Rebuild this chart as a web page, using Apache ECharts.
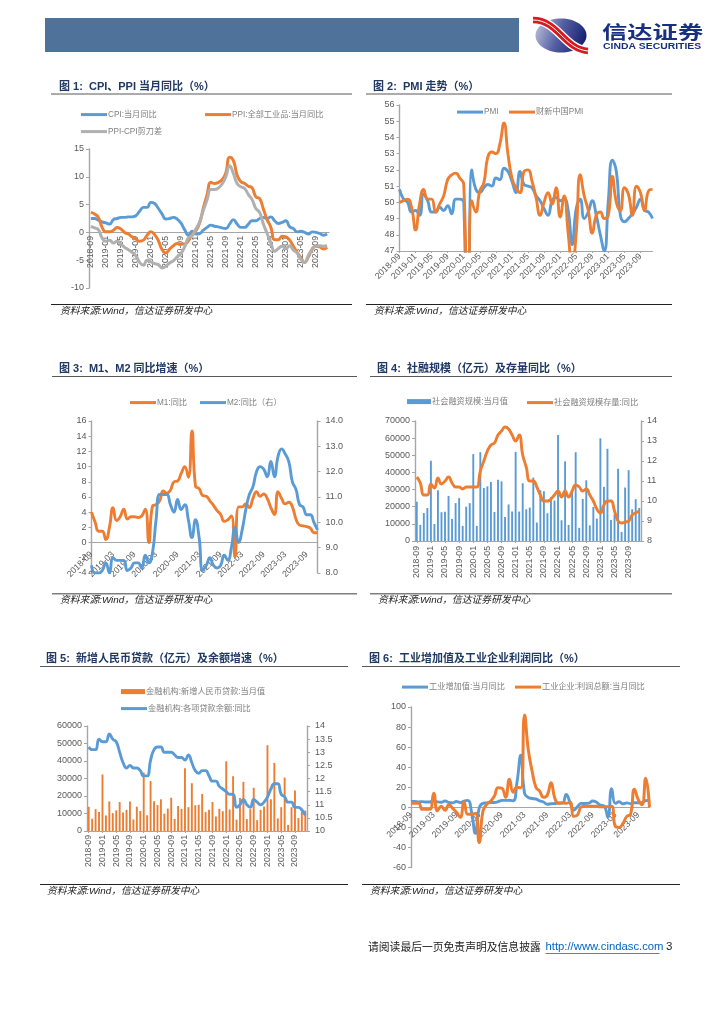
<!DOCTYPE html>
<html><head><meta charset="utf-8">
<style>html,body{margin:0;padding:0;background:#fff}#c{width:724px;height:1024px}</style>
<script src="https://cdn.jsdelivr.net/npm/echarts@6/dist/echarts.min.js"></script></head>
<body><div id="c"></div>
<script>
const months = [
 '2018-09','2018-10','2018-11','2018-12',
 '2019-01','2019-02','2019-03','2019-04','2019-05','2019-06','2019-07','2019-08','2019-09','2019-10','2019-11','2019-12',
 '2020-01','2020-02','2020-03','2020-04','2020-05','2020-06','2020-07','2020-08','2020-09','2020-10','2020-11','2020-12',
 '2021-01','2021-02','2021-03','2021-04','2021-05','2021-06','2021-07','2021-08','2021-09','2021-10','2021-11','2021-12',
 '2022-01','2022-02','2022-03','2022-04','2022-05','2022-06','2022-07','2022-08','2022-09','2022-10','2022-11','2022-12',
 '2023-01','2023-02','2023-03','2023-04','2023-05','2023-06','2023-07','2023-08','2023-09','2023-10','2023-11','2023-12'];

const cpi = [2.5,2.5,2.2,1.9,1.7,1.5,2.3,2.5,2.7,2.7,2.8,2.8,3.0,3.8,4.5,4.5,5.4,5.2,4.3,3.3,2.4,2.5,2.7,2.4,1.7,0.5,-0.5,0.2,-0.3,-0.2,0.4,0.9,1.3,1.1,1.0,0.8,0.7,1.5,2.3,1.5,0.9,0.9,1.5,2.1,2.1,2.5,2.7,2.5,2.8,2.1,1.6,1.8,2.1,1.0,0.7,0.1,0.2,0.0,-0.3,0.1,0.0,-0.2,-0.5,-0.3];
const ppi = [3.6,3.3,2.7,0.9,0.1,0.1,0.4,0.9,0.6,0.0,-0.3,-0.8,-1.2,-1.6,-1.4,-0.5,0.1,-0.4,-1.5,-3.1,-3.7,-3.0,-2.4,-2.0,-2.1,-2.1,-1.5,-0.4,0.3,1.7,4.4,6.8,9.0,8.8,9.0,9.5,10.7,13.5,12.9,10.3,9.1,8.8,8.3,8.0,6.4,6.1,4.2,2.3,0.9,-1.3,-1.3,-0.7,-0.8,-1.4,-2.5,-3.6,-4.6,-5.4,-4.4,-3.0,-2.5,-2.6,-3.0,-2.7];
const scissors = [1.1,0.8,0.5,-1.0,-1.6,-1.4,-1.9,-1.6,-2.1,-2.7,-3.1,-3.6,-4.2,-5.4,-5.9,-5.0,-5.3,-5.6,-5.8,-6.4,-6.1,-5.5,-5.1,-4.4,-3.8,-2.6,-1.0,-0.6,0.6,1.9,4.0,5.9,7.7,7.7,8.0,8.7,10.0,12.0,10.6,8.8,8.2,7.9,6.8,5.9,4.3,3.6,1.5,-0.2,-1.9,-3.4,-2.9,-2.5,-2.9,-2.4,-3.2,-3.7,-4.8,-5.4,-4.1,-3.1,-2.5,-2.4,-2.5,-2.4];

const pmi = [50.8,50.2,50.0,49.4,49.5,49.2,50.5,50.1,49.4,49.4,49.7,49.5,49.8,49.3,50.2,50.2,50.0,35.7,52.0,50.8,50.6,50.9,51.1,51.0,51.5,51.4,52.1,51.9,51.3,50.6,51.9,51.1,51.0,50.9,50.4,50.1,49.6,49.2,50.1,50.3,50.1,50.2,49.5,47.4,49.6,50.2,49.0,49.4,50.1,49.2,48.0,47.0,50.1,52.6,51.9,49.2,48.8,49.0,49.3,49.7,50.2,49.5,49.4,49.0];
const caixin = [50.0,50.1,50.2,49.7,48.3,49.9,50.8,50.2,50.2,49.4,49.9,50.4,51.4,51.7,51.8,51.5,51.1,40.3,50.1,49.4,50.7,51.2,52.8,53.1,53.0,53.6,54.9,53.0,51.5,50.9,50.6,51.9,52.0,51.3,50.3,49.2,50.0,50.6,49.9,50.9,49.1,50.4,48.1,46.0,48.1,51.7,50.4,49.5,48.1,49.2,49.4,49.0,49.2,51.6,50.0,49.5,50.9,50.5,49.2,51.0,50.6,49.5,50.7,50.8];

const m1 = [4.0,2.7,1.5,1.5,0.4,2.0,4.6,2.9,3.4,4.4,3.1,3.4,3.4,3.3,3.5,4.4,0.0,4.8,5.0,5.5,6.8,6.5,6.9,8.0,8.1,9.1,10.0,8.6,14.7,7.4,7.1,6.2,6.1,5.5,4.9,4.2,3.7,2.8,3.0,3.5,-1.9,4.7,4.7,5.1,4.6,5.8,6.7,6.1,6.4,5.8,4.6,3.7,6.7,5.8,5.1,5.3,4.7,3.1,2.3,2.2,2.1,1.9,1.3,1.3];
const m2 = [8.3,8.0,8.0,8.1,8.4,8.0,8.6,8.5,8.5,8.5,8.1,8.2,8.4,8.4,8.2,8.7,8.4,8.8,10.1,11.1,11.1,11.1,10.7,10.4,10.9,10.5,10.7,10.1,9.4,10.1,9.4,8.1,8.3,8.6,8.3,8.2,8.3,8.7,8.5,9.0,9.8,9.2,9.7,10.5,11.1,11.4,12.0,12.2,12.1,11.8,12.4,11.8,12.6,12.9,12.7,12.4,11.6,11.3,10.7,10.6,10.3,10.3,10.0,9.7];

const tsfFlow = [22900,9400,16300,19200,46800,9900,29600,16800,17000,26300,12900,22100,25000,8800,20000,22100,50700,8800,51800,30900,31900,34500,16900,35700,34800,14000,21300,17200,52000,17200,33700,18500,19500,37000,10800,29600,29000,16200,25700,23600,61800,12100,46500,9400,28400,51800,7700,24500,35400,9100,19900,13100,59900,31600,53800,12300,15600,42200,5300,31200,41300,18500,24400,19300];
const tsfStock = [11.2,10.9,10.3,10.3,10.85,10.65,11.15,10.85,11.0,11.2,10.9,10.7,10.7,10.6,10.7,10.7,10.7,10.7,11.5,12.0,12.5,12.8,12.9,13.3,13.5,13.7,13.6,13.3,13.0,13.3,12.3,11.7,11.0,11.0,10.7,10.3,10.0,10.0,10.1,10.3,10.5,10.2,10.5,10.2,10.5,10.8,10.7,10.5,10.6,10.3,10.0,9.6,9.4,9.8,10.0,10.0,9.5,9.0,8.9,8.95,9.0,9.3,9.4,9.5];

const loanFlow = [13800,7000,12500,10800,32300,8900,16900,10200,11800,16600,10600,12100,16900,6600,13900,11400,33400,9000,28500,17000,14800,18100,9900,12800,19000,6900,14300,12600,35800,13600,27300,14700,15000,21200,10800,12200,16600,8300,12700,11300,39800,12300,31300,6500,18900,28100,6800,12500,24700,6200,12100,14000,49000,18100,38900,7200,13600,30500,3500,13600,23100,7400,10900,11700];
const loanGrowth = [13.2,13.1,13.1,13.5,13.4,13.4,13.7,13.5,13.4,13.0,12.6,12.4,12.5,12.4,12.4,12.3,12.1,12.1,12.7,13.1,13.2,13.2,13.0,13.0,13.0,12.9,12.8,12.8,12.7,12.9,12.6,12.3,12.2,12.3,12.3,12.1,11.9,11.9,11.7,11.6,11.5,11.4,11.4,10.9,11.0,11.2,11.0,10.9,11.2,11.1,11.0,11.1,11.3,11.6,11.8,11.8,11.4,11.3,11.1,11.1,10.9,10.9,10.8,10.6];

const iva = [5.8,5.9,5.4,5.7,5.3,5.3,6.9,5.4,5.0,6.3,4.8,4.4,5.8,4.7,6.2,6.9,-5,-26,-1.1,3.9,4.4,4.8,4.8,5.6,6.9,6.9,7.0,6.5,25,52,14,9.8,8.8,8.3,6.4,5.3,3.1,3.5,3.8,4.3,4.0,12.8,5,-2.9,0.7,3.9,3.8,4.2,6.3,5,2.2,1.3,-10,18.5,3.9,5.6,3.5,4.4,3.7,4.5,4.5,4.6,6.6,7];
const profit = [4,4,4,-2,-2,-2,14,-3.5,1,-3,2.5,-1,-5,-10,5.5,-7,-7,-6,-35,-4,3,6,11,19.6,19,10,28,15,20,19.5,92,57,36,20,16,10,12,24.6,9,4,4.5,4,5,-9,-7.5,0.5,1,1,1,1,0.5,0.5,0.5,1,-19,-20,-16,-9,-7,18,8,2.5,29,0];

const BLUE='#5b9bd5', ORANGE='#ed7d31', GRAY='#a5a5a5', AX='#a6a6a6', TXT='#595959', NAVY='#1f3864';
const SANS='"Liberation Sans",Arial,sans-serif', CJK='"Liberation Sans","Noto Sans CJK SC",sans-serif';

const grids=[], xAxes=[], yAxes=[], series=[], legends=[], graphics=[];

function addGrid(box, xOpt){
  grids.push({left:box.x,top:box.y,width:box.w,height:box.h,containLabel:false});
  const g=grids.length-1;
  xAxes.push({type:'category',gridIndex:g,data:months,boundaryGap:!!xOpt.gap,
    axisLine:{show:true,onZero:xOpt.onZero!==false,onZeroAxisIndex:yAxes.length,lineStyle:{color:AX,width:1.2}},
    axisTick:{show:xOpt.tick!==false,interval:xOpt.every-1,alignWithLabel:true,length:2,lineStyle:{color:AX}},
    axisLabel:{interval:xOpt.every-1,rotate:xOpt.rotate,fontSize:xOpt.size||8.7,color:TXT,fontFamily:SANS,margin:xOpt.margin===undefined?4:xOpt.margin,hideOverlap:false}});
  return {g,x:xAxes.length-1};
}
function addY(g,o){
  yAxes.push({type:'value',gridIndex:g,min:o.min,max:o.max,interval:o.interval,position:o.right?'right':'left',
    splitLine:{show:false},axisLine:{show:true,onZero:false,lineStyle:{color:AX,width:1.4}},
    axisTick:{show:true,length:3,lineStyle:{color:AX}},
    axisLabel:{fontSize:o.size||9,color:TXT,fontFamily:SANS,margin:o.margin||5,formatter:o.fmt||(v=>String(v))}});
  return yAxes.length-1;
}
function line(name,data,color,x,y,w){
  series.push({type:'line',name,data,xAxisIndex:x,yAxisIndex:y,symbol:'none',smooth:0.5,clip:true,
    itemStyle:{color},lineStyle:{color,width:w||2.9}});
}
function bar(name,data,color,x,y,w){
  series.push({type:'bar',name,data,xAxisIndex:x,yAxisIndex:y,barWidth:w,itemStyle:{color}});
}
function legend(name,left,cy,bar){
  const h=bar?5:3;
  legends.push({data:[name],icon:'rect',left,top:cy-h/2,itemWidth:bar?24:26,itemHeight:h,padding:0,itemGap:0,
    textStyle:{fontSize:8.2,color:'#7f7f7f',fontFamily:CJK,padding:[0,0,0,-4]},selectedMode:false});
}
function headline(txt,x,y,x1,x2,yBottom,heavy,srcX){
  graphics.push({type:'text',style:{text:txt,x,y,fill:NAVY,font:'bold 11px '+CJK,textVerticalAlign:'middle'}});
  graphics.push({type:'rect',shape:{x:x1,y:y+7,width:x2-x1,height:1},style:{fill:'#595959'}});
  graphics.push({type:'rect',shape:{x:x1,y:yBottom,width:x2-x1,height:heavy?1.6:1},style:{fill:heavy?'#7f7f7f':'#222'}});
  graphics.push({type:'text',style:{text:sourceNote,x:srcX,y:yBottom+7.5,fill:'#222',font:'italic 9.8px '+CJK,textVerticalAlign:'middle'}});
}
const sourceNote='资料来源:Wind，信达证券研发中心';

/* chart 1 */
{ const a=addGrid({x:89,y:149,w:240,h:139},{every:4,rotate:90,tick:false,margin:-52,gap:true});
  const y=addY(a.g,{min:-10,max:15,interval:5});
  line('CPI:当月同比',cpi,BLUE,a.x,y); line('PPI:全部工业品:当月同比',ppi,ORANGE,a.x,y,3); line('PPI-CPI剪刀差',scissors,'#b0b0b0',a.x,y,3);
  legend('CPI:当月同比',81,112); legend('PPI:全部工业品:当月同比',205,112); legend('PPI-CPI剪刀差',81,129);
  headline('图 1:  CPI、PPI 当月同比（%）',59,86.5,51,352,304,false,60);
}
/* chart 2 */
{ const a=addGrid({x:399.5,y:105,w:253,h:146},{every:4,rotate:45,onZero:false,size:8.8});
  const y=addY(a.g,{min:47,max:56,interval:1});
  line('PMI',pmi,BLUE,a.x,y); line('财新中国PMI',caixin,ORANGE,a.x,y);
  legend('PMI',457,109.5); legend('财新中国PMI',509,109.5);
  headline('图 2:  PMI 走势（%）',373,86.5,366,672,304,false,374);
}
/* chart 3 */
{ const a=addGrid({x:91.5,y:421,w:226,h:152},{every:6,rotate:45,size:8.8,margin:-20,tick:false});
  const y=addY(a.g,{min:-4,max:16,interval:2});
  const r=addY(a.g,{min:8,max:14,interval:1,right:true,fmt:v=>v.toFixed(1),margin:8});
  line('M1:同比',m1,ORANGE,a.x,y); line('M2:同比（右）',m2,BLUE,a.x,r);
  legend('M1:同比',130,400); legend('M2:同比（右）',200,400);
  headline('图 3:  M1、M2 同比增速（%）',59,369,52,357,593,true,60);
}
/* chart 4 */
{ const a=addGrid({x:415,y:421,w:226,h:120},{every:4,rotate:90,gap:true,margin:5});
  const y=addY(a.g,{min:0,max:70000,interval:10000});
  const r=addY(a.g,{min:8,max:14,interval:1,right:true,margin:6});
  bar('社会融资规模:当月值',tsfFlow,BLUE,a.x,y,1.9); line('社会融资规模存量:同比',tsfStock,ORANGE,a.x,r);
  legend('社会融资规模:当月值',407,400,true); legend('社会融资规模存量:同比',527,400);
  headline('图 4:  社融规模（亿元）及存量同比（%）',377,369,370,672,593,true,378);
}
/* chart 5 */
{ const a=addGrid({x:87,y:726,w:220,h:105},{every:4,rotate:90,gap:true,margin:4});
  const y=addY(a.g,{min:0,max:60000,interval:10000});
  const r=addY(a.g,{min:10,max:14,interval:0.5,right:true,margin:8});
  bar('金融机构:新增人民币贷款:当月值',loanFlow,ORANGE,a.x,y,1.9); line('金融机构:各项贷款余额:同比',loanGrowth,BLUE,a.x,r);
  legend('金融机构:新增人民币贷款:当月值',121,690,true); legend('金融机构:各项贷款余额:同比',121,706);
  headline('图 5:  新增人民币贷款（亿元）及余额增速（%）',46,659,40,348,884,false,47);
}
/* chart 6 */
{ const a=addGrid({x:411,y:707,w:238.5,h:160.5},{every:6,rotate:45,size:8.8,margin:-54,tick:false});
  const y=addY(a.g,{min:-60,max:100,interval:20});
  line('工业增加值:当月同比',iva,BLUE,a.x,y); line('工业企业:利润总额:当月同比',profit,ORANGE,a.x,y,3);
  legend('工业增加值:当月同比',402,684.5); legend('工业企业:利润总额:当月同比',515,684.5);
  headline('图 6:  工业增加值及工业企业利润同比（%）',369,659,362,680,884,false,370);
}

/* header band and logo */
graphics.push({type:'rect',shape:{x:45,y:18,width:474,height:34},style:{fill:'#4e7299'}});
graphics.push({type:'ellipse',shape:{cx:561,cy:35.5,rx:25.5,ry:17},style:{fill:new echarts.graphic.LinearGradient(0,0,1,0.6,[{offset:0,color:'#c4c8e0'},{offset:0.5,color:'#5560a3'},{offset:1,color:'#14206f'}])}});
const swoosh={x1:533,y1:20,cpx1:558,cpy1:20,cpx2:564,cpy2:49,x2:588,y2:51};
graphics.push({type:'bezierCurve',shape:swoosh,style:{stroke:'#fff',lineWidth:9,fill:'none'}});
graphics.push({type:'bezierCurve',shape:swoosh,style:{stroke:'#d71920',lineWidth:6.4,fill:'none'}});
graphics.push({type:'bezierCurve',shape:swoosh,style:{stroke:'#fff',lineWidth:1,fill:'none'}});
graphics.push({type:'text',originX:602,originY:32.4,scaleY:0.72,style:{text:'信达证券',x:602,y:32.4,fill:'#17307f',font:'bold 25.3px "Noto Sans CJK SC"',textVerticalAlign:'middle'}});
graphics.push({type:'text',originX:603,originY:46.3,scaleY:0.8,style:{text:'CINDA SECURITIES',x:603,y:46.3,fill:'#17307f',font:'bold 10.4px '+SANS,textVerticalAlign:'middle'}});

/* footer */
graphics.push({type:'text',style:{text:'请阅读最后一页免责声明及信息披露',x:368,y:947,fill:'#222',font:'10.8px "Noto Sans CJK SC"',textVerticalAlign:'middle'}});
graphics.push({type:'text',style:{text:'http://www.cindasc.com',x:545.5,y:947,fill:'#0563c1',font:'11.3px '+SANS,textVerticalAlign:'middle'}});
graphics.push({type:'rect',shape:{x:545.5,y:953,width:114,height:0.8},style:{fill:'#0563c1'}});
graphics.push({type:'text',style:{text:'3',x:666,y:947,fill:'#222',font:'11.5px '+SANS,textVerticalAlign:'middle'}});

const chart=echarts.init(document.getElementById('c'),null,{renderer:'canvas',width:724,height:1024});
chart.setOption({animation:false,backgroundColor:'#fff',grid:grids,xAxis:xAxes,yAxis:yAxes,series,legend:legends,
  graphic:{elements:graphics}});
</script></body></html>
